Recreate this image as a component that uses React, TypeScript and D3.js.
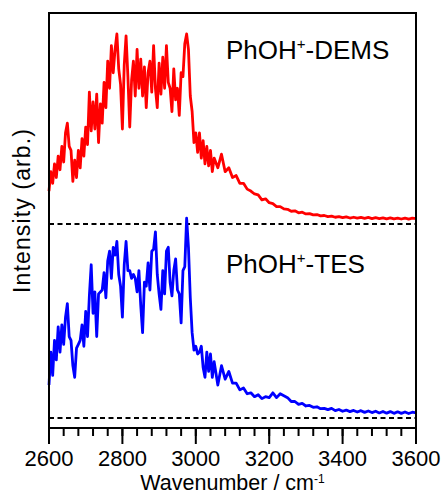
import React from 'react';
import * as d3 from 'd3';

// wavenumber grid: fine steps where the signal is noisy, coarser in the tail
const denseWn = d3.range(2600, 3050, 5);
const tailWn = d3.range(3050, 3601, 10);
const wavenumbers = denseWn.concat(tailWn);

// intensities, each relative to its own dashed baseline
const demsValues = [
  0.17, 0.27, 0.21, 0.31, 0.24, 0.35, 0.28, 0.40, 0.32, 0.47,
  0.52, 0.40, 0.38, 0.22, 0.33, 0.24, 0.38, 0.29, 0.44, 0.35,
  0.50, 0.41, 0.68, 0.48, 0.63, 0.49, 0.67, 0.42, 0.62, 0.52,
  0.73, 0.60, 0.84, 0.70, 0.92, 0.78, 0.90, 0.98, 0.80, 0.72,
  0.49, 0.82, 0.97, 0.76, 0.50, 0.74, 0.84, 0.66, 0.90, 0.70,
  0.85, 0.66, 0.81, 0.60, 0.78, 0.84, 0.68, 0.92, 0.70, 0.60,
  0.83, 0.67, 0.86, 0.70, 0.92, 0.73, 0.70, 0.58, 0.80, 0.64,
  0.70, 0.56, 0.78, 0.76, 0.93, 0.98, 0.90, 0.66, 0.58, 0.42,
  0.47, 0.37, 0.47, 0.34, 0.43, 0.31, 0.40, 0.30, 0.38, 0.27,
  0.34, 0.29, 0.36, 0.27, 0.29, 0.24, 0.25, 0.21, 0.21, 0.18,
  0.17, 0.155, 0.15, 0.125, 0.13, 0.11, 0.105, 0.09, 0.09, 0.078,
  0.076, 0.066, 0.068, 0.058, 0.061, 0.052, 0.054, 0.047, 0.049, 0.042,
  0.044, 0.038, 0.041, 0.035, 0.038, 0.033, 0.037, 0.031, 0.035, 0.030,
  0.034, 0.029, 0.034, 0.028, 0.033, 0.028, 0.032, 0.027, 0.032, 0.027,
  0.031, 0.026, 0.031, 0.025, 0.030, 0.028,
];

const tesValues = [
  0.17, 0.34, 0.22, 0.40, 0.30, 0.47, 0.34, 0.48, 0.38, 0.52,
  0.59, 0.42, 0.40, 0.27, 0.21, 0.36, 0.38, 0.40, 0.48, 0.37,
  0.55, 0.42, 0.63, 0.79, 0.54, 0.65, 0.42, 0.64, 0.65, 0.66,
  0.75, 0.62, 0.81, 0.86, 0.72, 0.88, 0.84, 0.91, 0.74, 0.68,
  0.52, 0.79, 0.91, 0.76, 0.76, 0.72, 0.74, 0.72, 0.65, 0.76,
  0.58, 0.44, 0.70, 0.68, 0.80, 0.66, 0.86, 0.87, 0.96, 0.74,
  0.64, 0.56, 0.76, 0.64, 0.86, 0.88, 0.70, 0.63, 0.76, 0.82,
  0.66, 0.64, 0.49, 0.76, 0.78, 1.03, 0.88, 0.62, 0.44, 0.35,
  0.37, 0.33, 0.34, 0.37, 0.26, 0.21, 0.34, 0.24, 0.33, 0.21,
  0.29, 0.17, 0.27, 0.20, 0.24, 0.18, 0.18, 0.145, 0.155, 0.125,
  0.13, 0.11, 0.12, 0.10, 0.11, 0.105, 0.13, 0.105, 0.125, 0.115,
  0.105, 0.085, 0.085, 0.07, 0.075, 0.062, 0.065, 0.055, 0.058, 0.048,
  0.050, 0.043, 0.050, 0.038, 0.044, 0.035, 0.041, 0.033, 0.039, 0.031,
  0.038, 0.029, 0.036, 0.028, 0.035, 0.026, 0.034, 0.025, 0.033, 0.024,
  0.032, 0.024, 0.031, 0.023, 0.030, 0.026,
];

const seriesOffsets = [1, 0]; // DEMS stacked above TES
const seriesNames = ['DEMS', 'TES'];
const seriesColors = ['#ff0000', '#0000ff'];
const labelBaselines = [59, 273];
const majorTicks = [2600, 2800, 3000, 3200, 3400, 3600];
const minorTicks = d3.range(2600, 3601, 40);

const W = 443;
const H = 494;
const left = 49, right = 416, top = 13, bottom = 428;
const font = '"Liberation Sans", Arial, sans-serif';

export default function App() {
  const x = d3.scaleLinear().domain([2600, 3600]).range([left, right]);
  const y = d3.scaleLinear().domain([-0.0515, 2.088]).range([bottom, top]);

  const series = [demsValues, tesValues].map((vals, i) =>
    vals.map((v, j) => [wavenumbers[j], v + seriesOffsets[i]] as [number, number])
  );
  const line = d3.line<[number, number]>().x(d => x(d[0])).y(d => y(d[1]));

  return (
    <svg width={W} height={H} style={{ position: 'absolute', left: 0, top: 0 }} fontFamily={font}>
      <rect width={W} height={H} fill="#fff" />
      {seriesOffsets.map((o, i) => (
        <line key={'b' + i} x1={left} x2={right} y1={y(o)} y2={y(o)}
          stroke="#000" strokeWidth={2} strokeDasharray="5,3.5" />
      ))}
      {series.map((s, i) => (
        <path key={seriesNames[i]} d={line(s) || ''} fill="none" stroke={seriesColors[i]}
          strokeWidth={2.8} strokeLinejoin="round" />
      ))}
      {seriesNames.map((n, i) => (
        <text key={'l' + n} x={226} y={labelBaselines[i]} fontSize={26} fill="#000">
          PhOH<tspan fontSize={15} dy={-10}>+</tspan><tspan dy={10}>-{n}</tspan>
        </text>
      ))}
      <rect x={left} y={top} width={right - left} height={bottom - top} fill="none" stroke="#000" strokeWidth={2} />
      {minorTicks.map(t => (
        <line key={'m' + t} x1={x(t)} x2={x(t)} y1={bottom} y2={bottom + 8} stroke="#000" strokeWidth={2} />
      ))}
      {majorTicks.map(t => (
        <g key={'t' + t}>
          <line x1={x(t)} x2={x(t)} y1={bottom} y2={bottom + 16} stroke="#000" strokeWidth={2} />
          <text x={x(t)} y={465.5} fontSize={22} textAnchor="middle" fill="#000">{t}</text>
        </g>
      ))}
      <text x={(left + right) / 2} y={489.5} fontSize={21.5} textAnchor="middle" fill="#000">
        Wavenumber / cm<tspan fontSize={12} dy={-7}>-1</tspan>
      </text>
      <text transform={`translate(30,211) rotate(-90)`} fontSize={23} textAnchor="middle"
        textLength={164} lengthAdjust="spacing" fill="#000">
        Intensity (arb.)
      </text>
    </svg>
  );
}
